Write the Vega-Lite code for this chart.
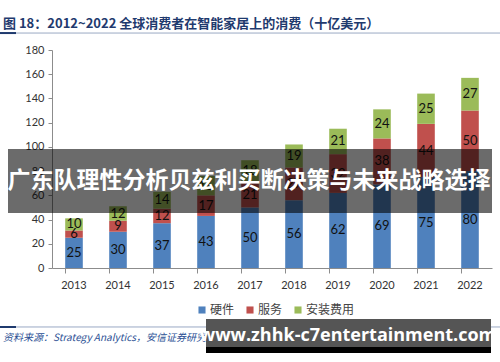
{
  "$schema": "https://vega.github.io/schema/vega-lite/v6.json",
  "width": 440,
  "height": 218,
  "autosize": {"type": "none"},
  "padding": {"left": 52, "top": 50, "right": 8, "bottom": 94},
  "background": "white",
  "title": {
    "text": "图 18：2012~2022 全球消费者在智能家居上的消费（十亿美元）",
    "anchor": "start",
    "frame": "group",
    "dx": -49,
    "offset": 1,
    "font": "Noto Sans CJK SC",
    "fontSize": 13,
    "fontWeight": "bold",
    "color": "#1f3a6e"
  },
  "config": {
    "view": {"stroke": null},
    "font": "Lato",
    "axisY": {
      "title": null, "tickCount": 9, "labelOverlap": false, "labelFlush": false,
      "grid": false, "domainColor": "#8c8c8c", "tickColor": "#8c8c8c", "tickSize": 4,
      "labelFont": "Lato", "labelFontSize": 11, "labelColor": "#333333", "labelPadding": 4
    },
    "axisX": {
      "title": null, "labelAngle": 0, "bandPosition": 0, "grid": false,
      "domainColor": "#8c8c8c", "tickColor": "#8c8c8c", "tickSize": 5,
      "labelFont": "Lato", "labelFontSize": 11, "labelColor": "#333333", "labelPadding": 6
    }
  },
  "data": {
    "values": [
      {"year": "2013", "series": "硬件", "amount": 25, "order": 1},
      {"year": "2013", "series": "服务", "amount": 6, "order": 2},
      {"year": "2013", "series": "安装费用", "amount": 10, "order": 3},
      {"year": "2014", "series": "硬件", "amount": 30, "order": 1},
      {"year": "2014", "series": "服务", "amount": 9, "order": 2},
      {"year": "2014", "series": "安装费用", "amount": 12, "order": 3},
      {"year": "2015", "series": "硬件", "amount": 37, "order": 1},
      {"year": "2015", "series": "服务", "amount": 12, "order": 2},
      {"year": "2015", "series": "安装费用", "amount": 14, "order": 3},
      {"year": "2016", "series": "硬件", "amount": 43, "order": 1},
      {"year": "2016", "series": "服务", "amount": 17, "order": 2},
      {"year": "2016", "series": "安装费用", "amount": 16, "order": 3},
      {"year": "2017", "series": "硬件", "amount": 50, "order": 1},
      {"year": "2017", "series": "服务", "amount": 21, "order": 2},
      {"year": "2017", "series": "安装费用", "amount": 18, "order": 3},
      {"year": "2018", "series": "硬件", "amount": 56, "order": 1},
      {"year": "2018", "series": "服务", "amount": 27, "order": 2},
      {"year": "2018", "series": "安装费用", "amount": 19, "order": 3},
      {"year": "2019", "series": "硬件", "amount": 62, "order": 1},
      {"year": "2019", "series": "服务", "amount": 32, "order": 2},
      {"year": "2019", "series": "安装费用", "amount": 21, "order": 3},
      {"year": "2020", "series": "硬件", "amount": 69, "order": 1},
      {"year": "2020", "series": "服务", "amount": 38, "order": 2},
      {"year": "2020", "series": "安装费用", "amount": 24, "order": 3},
      {"year": "2021", "series": "硬件", "amount": 75, "order": 1},
      {"year": "2021", "series": "服务", "amount": 44, "order": 2},
      {"year": "2021", "series": "安装费用", "amount": 25, "order": 3},
      {"year": "2022", "series": "硬件", "amount": 80, "order": 1},
      {"year": "2022", "series": "服务", "amount": 50, "order": 2},
      {"year": "2022", "series": "安装费用", "amount": 27, "order": 3}
    ]
  },
  "layer": [
    {
      "mark": {"type": "bar"},
      "encoding": {
        "x": {
          "field": "year", "type": "nominal",
          "scale": {"paddingInner": 0.6, "paddingOuter": 0.3}
        },
        "y": {
          "aggregate": "sum", "field": "amount", "type": "quantitative", "stack": "zero",
          "scale": {"domain": [0, 180], "nice": false}
        },
        "color": {
          "field": "series", "type": "nominal",
          "scale": {"domain": ["硬件", "服务", "安装费用"], "range": ["#4f81bd", "#c0504d", "#9bbb59"]},
          "legend": {
            "title": null, "orient": "none", "legendX": 144, "legendY": 254, "direction": "horizontal",
            "symbolType": "square", "symbolSize": 50, "symbolStrokeWidth": 0,
            "labelFont": "Noto Sans CJK SC", "labelFontSize": 12, "labelColor": "#444444",
            "labelOffset": 2, "columnPadding": 9
          }
        },
        "order": {"field": "order", "type": "quantitative"}
      }
    },
    {
      "transform": [
        {"stack": "amount", "groupby": ["year"], "sort": [{"field": "order"}], "as": ["y0", "y1"]},
        {"fold": ["y0", "y1"], "as": ["edge", "pos"]}
      ],
      "mark": {"type": "text", "font": "Lato", "fontSize": 13, "color": "#111111", "baseline": "middle"},
      "encoding": {
        "x": {"field": "year", "type": "nominal"},
        "y": {"aggregate": "mean", "field": "pos", "type": "quantitative", "scale": {"domain": [0, 180], "nice": false}},
        "text": {"field": "amount", "type": "quantitative"},
        "detail": {"field": "series", "type": "nominal"}
      }
    },
    {
      "data": {"values": [{"k": "line"}]},
      "mark": {"type": "rule", "x": -52, "x2": 448, "color": "#9aa9c4", "strokeWidth": 1},
      "encoding": {"y": {"datum": 194, "type": "quantitative", "scale": {"domain": [0, 180], "nice": false}}}
    },
    {
      "data": {"values": [{"k": "line"}]},
      "mark": {"type": "rule", "x": -52, "x2": -36, "color": "#1f3a6e", "strokeWidth": 2},
      "encoding": {"y": {"datum": 194, "type": "quantitative", "scale": {"domain": [0, 180], "nice": false}}}
    },
    {
      "data": {"values": [{"k": "line"}]},
      "mark": {"type": "rule", "x": -52, "x2": 448, "color": "#9aa9c4", "strokeWidth": 1},
      "encoding": {"y": {"datum": -48.7, "type": "quantitative", "scale": {"domain": [0, 180], "nice": false}}}
    },
    {
      "data": {"values": [{"k": "line"}]},
      "mark": {"type": "rule", "x": -52, "x2": -36, "color": "#1f3a6e", "strokeWidth": 2},
      "encoding": {"y": {"datum": -48.7, "type": "quantitative", "scale": {"domain": [0, 180], "nice": false}}}
    },
    {
      "data": {"values": [{"label": "资料来源：Strategy Analytics，安信证券研究所"}]},
      "mark": {"type": "text", "x": -49, "align": "left", "baseline": "middle", "font": "Noto Sans CJK SC", "fontSize": 10, "fontStyle": "italic", "color": "#2b4f94"},
      "encoding": {
        "y": {"datum": -57.5, "type": "quantitative", "scale": {"domain": [0, 180], "nice": false}},
        "text": {"field": "label", "type": "nominal"}
      }
    },
    {
      "data": {"values": [{"k": "banner"}]},
      "mark": {"type": "rect", "x": -44, "x2": 440, "color": "#000000", "opacity": 0.58},
      "encoding": {
        "y": {"datum": 98.3, "type": "quantitative", "scale": {"domain": [0, 180], "nice": false}},
        "y2": {"datum": 45.4}
      }
    },
    {
      "data": {"values": [{"label": "广东队理性分析贝兹利买断决策与未来战略选择"}]},
      "mark": {"type": "text", "x": 197, "align": "center", "baseline": "middle", "font": "Noto Sans CJK SC", "fontSize": 23, "fontWeight": "bold", "color": "#ffffff"},
      "encoding": {
        "y": {"datum": 72, "type": "quantitative", "scale": {"domain": [0, 180], "nice": false}},
        "text": {"field": "label", "type": "nominal"}
      }
    },
    {
      "data": {"values": [{"k": "wm"}]},
      "mark": {"type": "rect", "x": 154, "x2": 439, "color": "#555555"},
      "encoding": {
        "y": {"datum": -42.1, "type": "quantitative", "scale": {"domain": [0, 180], "nice": false}},
        "y2": {"datum": -65.2}
      }
    },
    {
      "data": {"values": [{"k": "wm2"}]},
      "mark": {"type": "rect", "x": 154, "x2": 439, "color": "#000000"},
      "encoding": {
        "y": {"datum": -65.2, "type": "quantitative", "scale": {"domain": [0, 180], "nice": false}},
        "y2": {"datum": -70.2}
      }
    },
    {
      "data": {"values": [{"label": "www.zhhk-c7entertainment.com"}]},
      "mark": {"type": "text", "x": 296, "align": "center", "baseline": "middle", "font": "Open Sans", "fontSize": 18, "fontWeight": "bold", "color": "#ffffff"},
      "encoding": {
        "y": {"datum": -55.8, "type": "quantitative", "scale": {"domain": [0, 180], "nice": false}},
        "text": {"field": "label", "type": "nominal"}
      }
    }
  ]
}
